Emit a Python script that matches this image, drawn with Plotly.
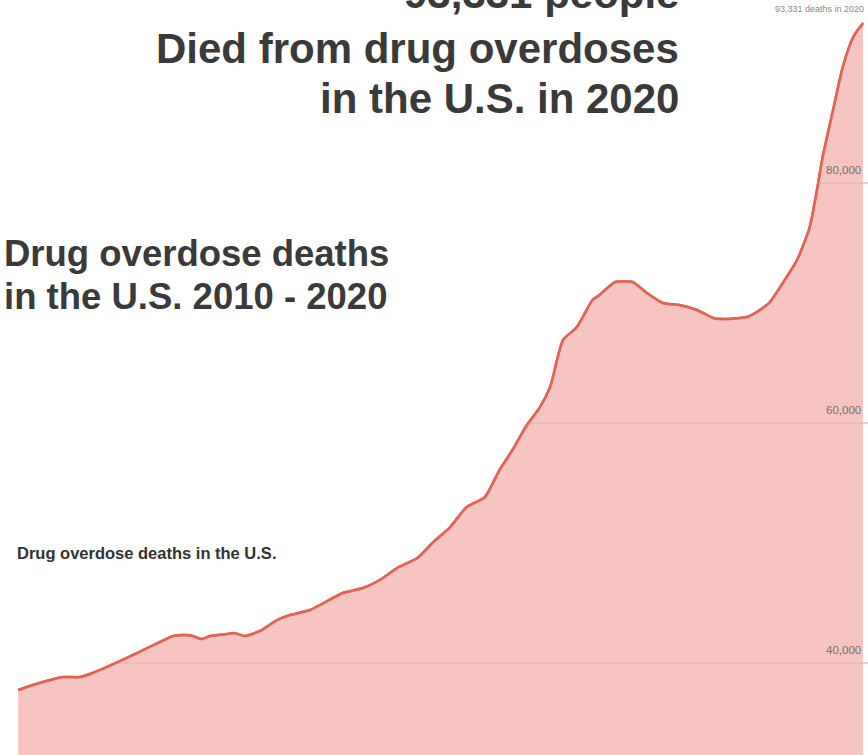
import numpy as np
import pandas as pd
import plotly.graph_objects as go

# 12-month rolling count of drug overdose deaths (approximate)
dates = ["2010-01-01", "2010-03-10", "2010-06-01", "2010-08-01", "2010-10-18", "2010-12-18",
         "2011-02-24", "2011-05-28", "2011-09-01", "2011-11-01", "2012-01-01", "2012-03-06",
         "2012-04-03", "2012-05-15", "2012-06-24", "2012-09-12", "2012-10-18", "2012-12-06",
         "2013-02-15", "2013-05-06", "2013-07-06", "2013-10-09", "2014-03-12", "2014-06-15",
         "2014-09-03", "2014-11-24", "2015-02-27", "2015-05-09", "2015-08-01", "2015-10-18",
         "2016-01-12", "2016-03-21", "2016-05-21", "2016-07-28", "2016-09-28", "2016-11-15",
         "2017-01-15", "2017-03-21", "2017-06-03", "2017-07-06", "2017-09-18", "2017-12-09",
         "2018-02-15", "2018-05-01", "2018-07-18", "2018-10-09", "2018-12-24", "2019-02-09",
         "2019-06-01", "2019-07-18", "2019-09-18", "2019-11-18", "2020-01-24", "2020-03-24",
         "2020-04-27", "2020-05-24", "2020-07-12", "2020-08-27", "2020-10-15", "2020-12-01"]
deaths = [37750, 38170, 38580, 38830, 38830, 39170,
          39670, 40420, 41250, 41750, 42250, 42330,
          42250, 42000, 42250, 42420, 42500, 42250,
          42670, 43580, 44000, 44420, 45830, 46250,
          46920, 47920, 48750, 50000, 51330, 53000,
          53830, 56080, 57750, 59830, 61330, 63000,
          66920, 68000, 70250, 70670, 71750, 71750,
          70830, 70000, 69830, 69420, 68750, 68670,
          68830, 69250, 70080, 71670, 73580, 76330,
          79420, 82170, 86080, 89670, 92170, 93331]

grid_values = [40000, 60000, 80000]
grid_labels = ["40,000", "60,000", "80,000"]

W, H = 868, 755
X_RANGE = ["2009-10-07", "2020-12-24"]
Y_RANGE = [32333, 95250]

FILL = "rgb(246,197,193)"
LINE = "rgb(226,100,86)"
GRID = "rgb(236,182,178)"
DARK = "#3a3a3a"

fig = go.Figure()

fig.add_trace(go.Scatter(
    x=dates, y=deaths, mode="lines", fill="tozeroy",
    fillcolor=FILL, line=dict(color=LINE, width=2.5, shape="spline", smoothing=0.6),
    hoverinfo="skip", showlegend=False))

# gridlines visible only inside the filled area (from curve crossing to the right edge)
t = pd.to_datetime(pd.Series(dates)).astype("int64").to_numpy() / 1e9
v = np.array(deaths, dtype=float)
t_end = pd.Timestamp(X_RANGE[1]).value / 1e9
for gv in grid_values:
    idx = np.where((v[:-1] < gv) & (v[1:] >= gv))[0][-1]
    frac = (gv - v[idx]) / (v[idx + 1] - v[idx])
    tc = t[idx] + frac * (t[idx + 1] - t[idx])
    xs = pd.to_datetime([tc, t_end], unit="s")
    fig.add_trace(go.Scatter(x=xs, y=[gv, gv], mode="lines",
                             line=dict(color=GRID, width=1.5),
                             hoverinfo="skip", showlegend=False))

# redraw the line on top of gridlines
fig.add_trace(go.Scatter(
    x=dates, y=deaths, mode="lines",
    line=dict(color=LINE, width=2.5, shape="spline", smoothing=0.6),
    hoverinfo="skip", showlegend=False))

def px(p):
    return p / W

def py(p):
    return 1 - p / H

annotations = []
for gv, gl in zip(grid_values, grid_labels):
    annotations.append(dict(xref="paper", yref="y", x=px(863), y=gv, yshift=13,
                            xanchor="right", yanchor="middle", showarrow=False,
                            text=gl, font=dict(family="Liberation Sans, Arial",
                                               size=11.5, color="#707070")))

big_font = dict(family="Liberation Sans, Arial", size=42, color=DARK)
left_font = dict(family="Liberation Sans, Arial", size=36.5, color=DARK)
annotations += [
    dict(xref="paper", yref="paper", x=px(681), y=py(-6), xanchor="right", yanchor="middle",
         text="<b>93,331 people</b>", showarrow=False, font=big_font),
    dict(xref="paper", yref="paper", x=px(681), y=py(48), xanchor="right", yanchor="middle",
         text="<b>Died from drug overdoses</b>", showarrow=False, font=big_font),
    dict(xref="paper", yref="paper", x=px(681), y=py(99), xanchor="right", yanchor="middle",
         text="<b>in the U.S. in 2020</b>", showarrow=False, font=big_font),
    dict(xref="paper", yref="paper", x=px(2), y=py(253), xanchor="left", yanchor="middle",
         text="<b>Drug overdose deaths</b>", showarrow=False, font=left_font),
    dict(xref="paper", yref="paper", x=px(2), y=py(296), xanchor="left", yanchor="middle",
         text="<b>in the U.S. 2010 - 2020</b>", showarrow=False, font=left_font),
    dict(xref="paper", yref="paper", x=px(15), y=py(553), xanchor="left", yanchor="middle",
         text="<b>Drug overdose deaths in the U.S.</b>", showarrow=False,
         font=dict(family="Liberation Sans, Arial", size=16.5, color="#333333")),
    dict(xref="paper", yref="paper", x=px(866), y=py(9), xanchor="right", yanchor="middle",
         text="93,331 deaths in 2020", showarrow=False,
         font=dict(family="Liberation Sans, Arial", size=9, color="#8a8a8a")),
]

fig.update_layout(
    width=W, height=H,
    margin=dict(l=0, r=0, t=0, b=0),
    paper_bgcolor="white", plot_bgcolor="white",
    xaxis=dict(range=X_RANGE, visible=False, showgrid=False, zeroline=False),
    yaxis=dict(range=Y_RANGE, visible=False, showgrid=False, zeroline=False),
    annotations=annotations,
    showlegend=False,
)

fig.write_html("out.html", config={"displayModeBar": False},
               post_script="document.body.style.margin='0';document.body.style.overflow='hidden';")
